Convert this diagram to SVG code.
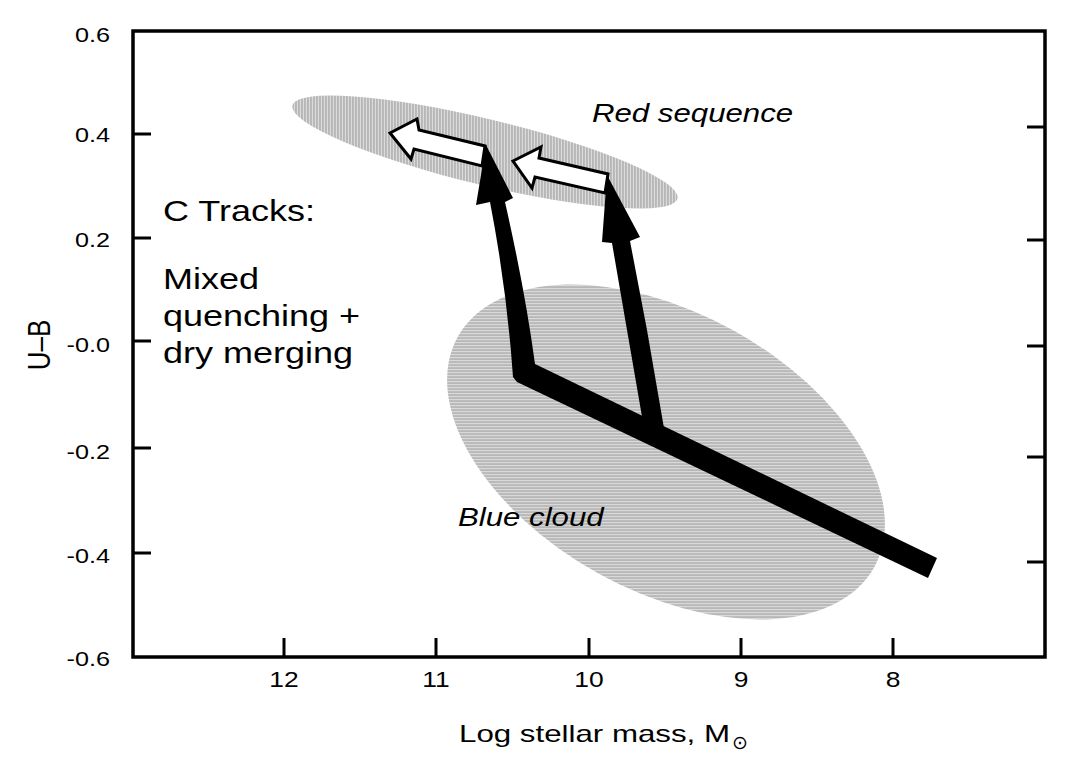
<svg xmlns="http://www.w3.org/2000/svg" width="1068" height="775" viewBox="0 0 1068 775">
<style>
.t{font-family:"Liberation Sans",Arial,Helvetica,sans-serif;fill:#000}
.tick{font-size:21px}
.xtick{font-size:22px}
.big{font-size:30px}
.it{font-size:26px;font-style:italic}
.ax{stroke:#000;stroke-width:3;fill:none}
.wa{fill:#fff;stroke:#000;stroke-width:3;stroke-linejoin:miter}
</style>
<defs>
<pattern id="vstripe" width="3" height="6" patternUnits="userSpaceOnUse" patternTransform="rotate(-13.6)">
<rect width="3" height="6" fill="#e4e4e4"/>
<rect width="1.4" height="6" fill="#a0a0a0"/>
</pattern>
<pattern id="hstripe" width="6" height="3" patternUnits="userSpaceOnUse" patternTransform="rotate(-28.9)">
<rect width="6" height="3" fill="#e4e4e4"/>
<rect width="6" height="1.4" fill="#a0a0a0"/>
</pattern>
</defs>
<rect width="1068" height="775" fill="#fff"/>

<g id="blue-cloud">
<ellipse cx="666" cy="452" rx="238" ry="139" transform="rotate(28.9 666 452)" fill="url(#hstripe)"/>
<text class="t it" transform="translate(458,526) scale(1.2 1)">Blue cloud</text>
</g>

<g id="red-sequence">
<ellipse cx="485" cy="152" rx="198" ry="33" transform="rotate(13.6 485 152)" fill="url(#vstripe)"/>
<text class="t it" transform="translate(592,122) scale(1.2 1)">Red sequence</text>
</g>

<g id="axes">
<rect x="133" y="31" width="912" height="626" fill="none" stroke="#000" stroke-width="3.5"/>
<path class="ax" d="M133,134H151M133,238H151M133,341H151M133,448H151M133,553H151"/>
<path class="ax" d="M1045,127H1027M1045,240H1027M1045,346H1027M1045,457H1027M1045,562H1027"/>
<path class="ax" d="M284,657V638M436,657V638M589,657V638M741,657V638M893,657V638"/>
<g class="t tick" text-anchor="end">
<text transform="translate(110,42) scale(1.2 1)">0.6</text>
<text transform="translate(110,142) scale(1.2 1)">0.4</text>
<text transform="translate(110,247) scale(1.2 1)">0.2</text>
<text transform="translate(110,352) scale(1.2 1)">-0.0</text>
<text transform="translate(110,459) scale(1.2 1)">-0.2</text>
<text transform="translate(110,563) scale(1.2 1)">-0.4</text>
<text transform="translate(110,666) scale(1.2 1)">-0.6</text>
</g>
<g class="t xtick" text-anchor="middle">
<text transform="translate(284,687) scale(1.2 1)">12</text>
<text transform="translate(436,687) scale(1.2 1)">11</text>
<text transform="translate(589,687) scale(1.2 1)">10</text>
<text transform="translate(741,687) scale(1.2 1)">9</text>
<text transform="translate(893,687) scale(1.2 1)">8</text>
</g>
<text class="t" font-size="26" text-anchor="middle" transform="translate(50,345) scale(1.2 1) rotate(-90)">U–B</text>
<text class="t" font-size="24" x="459" y="742" textLength="271" lengthAdjust="spacingAndGlyphs">Log stellar mass, M</text>
<text x="740" y="749" font-size="19" text-anchor="middle" font-family="'DejaVu Sans',sans-serif" fill="#000">⊙</text>
</g>

<g id="title-text" class="t big">
<text transform="translate(163,221) scale(1.2 1)">C Tracks:</text>
<text transform="translate(163,289) scale(1.2 1)">Mixed</text>
<text transform="translate(163,326) scale(1.2 1)">quenching +</text>
<text transform="translate(163,363) scale(1.2 1)">dry merging</text>
</g>

<g id="connectors">
<path class="wa" d="M390,133 L417,119 L419,130 L485,146 L482,166 L414,149 L411,159 Z"/>
<path class="wa" d="M513,161 L541,147 L539,158 L608,174 L605,193 L535,177 L532,188 Z"/>
<path fill="#000" d="M486,145 L513,198 L505,202 Q525,290 535,364 L937,558 L928,578 L517,382 L513,377 Q507,290 490,202 L476,205 Z"/>
<path fill="#000" d="M607,175 L640,237 L630,241 L647,330 L665,434 L645,434 L627,330 L612,243 L602,242 Z"/>
</g>
</svg>
